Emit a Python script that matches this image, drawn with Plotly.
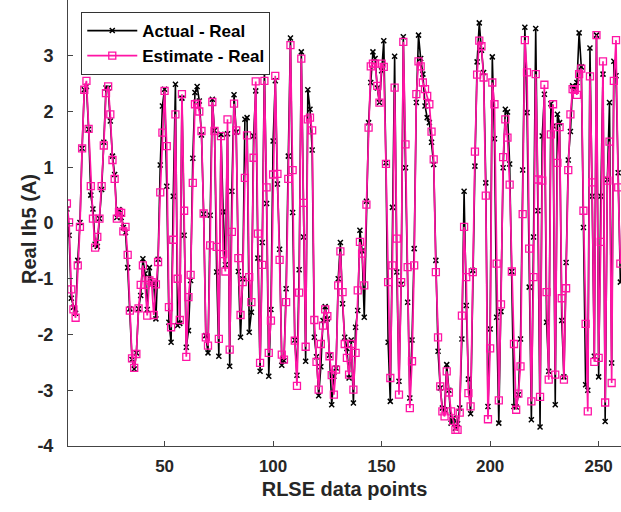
import plotly.graph_objects as go

# RLSE data point index
data_points = list(range(5, 261))

actual_real = [
    0.25, -0.22, -1.35, -1.51, -1.62, -0.67, 0.01, 1.34, 2.39, 2.45,
    1.68, 0.50, 0.25, -0.38, -0.42, 0.08, 0.60, 1.45, 2.42, 2.42,
    1.83, 1.20, 0.87, 0.10, 0.24, 0.10, -0.08, -0.17, -0.80, -1.54,
    -2.45, -2.62, -2.33, -1.54, -1.30, -0.64, -0.91, -1.55, -0.80, -1.10,
    -1.08, -1.72, -0.65, 1.04, 2.10, 2.40, 0.66, -1.78, -2.14, 0.48,
    2.49, -1.84, -1.80, 2.24, -0.22, -2.23, -1.93, -1.03, 1.16, 2.34,
    2.45, 2.19, 1.58, 0.16, -2.02, -2.33, 0.14, 2.22, 1.66, -0.88,
    -2.39, 1.59, 0.20, -0.75, 1.60, -2.57, 0.57, 2.30, 1.63, -0.87,
    -2.05, -1.00, 1.86, 1.89, -1.96, -1.60, 1.56, 2.37, -0.63, -2.66,
    -0.35, 2.80, 0.35, -2.75, -1.55, 1.47, 2.55, 0.70, -0.47, -2.55,
    -2.47, -1.18, 1.20, 3.32, 0.19, -2.10, -2.73, -0.84, 3.07, -0.25,
    -2.48, 2.39, 2.04, 1.31, -2.05, -2.40, -3.10, -2.58, -1.75, -1.50,
    -1.72, -2.37, -3.26, -2.75, -2.60, -1.00, -0.35, -1.45, -2.05, -2.25,
    -2.78, -2.10, -3.23, -1.87, -1.57, -0.13, -0.50, -1.69, 0.39, 1.80,
    2.52, 3.07, 2.95, 2.42, 2.16, 2.73, 3.27, 1.08, -2.14, -3.20,
    0.28, 2.99, -0.88, -2.84, -1.10, 3.34, 0.99, -1.42, -3.14, -2.10,
    -0.46, 2.16, 3.37, 2.95, 2.67, 2.10, 1.89, 1.80, 1.45, 1.05,
    -0.67, -2.30, -2.96, -3.32, -3.35, -2.54, -3.00, -3.59, -3.50, -3.68,
    -3.60, -3.32, -2.08, 0.57, -1.48, -2.80, -3.42, -0.85, 1.02, 2.89,
    3.59, 3.10, 2.70, 0.72, -3.29, -1.90, 2.98, 1.51, -1.69, -3.59,
    -1.59, 0.99, 2.04, 1.99, 1.06, -0.87, -3.29, -3.30, -3.08, -2.08,
    0.95, 3.51, 1.98, -1.15, -3.53, -0.25, 3.49, 0.22, -3.66, 1.56,
    2.31, -1.78, -2.66, 2.14, 1.74, -3.26, 1.95, 1.80, -1.75, -2.76,
    -0.71, 1.13, 1.64, 2.46, 2.40, 2.52, 3.41, 2.80, -0.08, -2.90,
    -3.00, 3.14, 0.48, -2.39, 3.37, -2.76, 0.48, 2.67, -3.56, 0.78,
    2.16, -2.51, 2.90, 2.64, 0.90, -1.06,
]

estimate_real = [
    0.35, 0.01, -1.19, -1.55, -1.70, -0.76, -0.07, 1.34, 2.39, 2.55,
    1.69, 0.66, 0.08, -0.44, -0.25, 0.08, 0.66, 1.39, 2.33, 2.45,
    1.95, 1.13, 0.79, 0.08, 0.20, 0.18, -0.15, -0.07, -0.57, -1.57,
    -2.43, -2.60, -2.35, -1.53, -1.11, -0.76, -1.11, -1.66, -1.03, -1.06,
    -1.65, -1.10, -0.70, 0.55, 1.62, 2.37, 1.38, -1.51, -1.87, -0.30,
    1.95, -1.00, -1.74, 2.31, 0.22, -2.40, -1.33, -0.93, 0.72, 2.13,
    2.14, 2.00, 1.65, 0.17, -2.05, -2.20, -0.40, 2.17, 1.65, -0.43,
    -2.08, 1.56, -0.56, -0.87, 1.86, -2.27, -0.16, 2.14, 1.66, -0.63,
    -1.65, -1.06, 0.81, 1.57, -0.97, -1.42, 1.17, 2.54, -0.19, -2.51,
    -0.75, 2.55, 0.64, -2.33, -1.75, 0.87, 2.64, 0.88, -0.66, -2.36,
    -2.45, -1.42, 0.79, 3.19, 0.95, -2.11, -2.92, -1.25, 2.95, 0.36,
    -2.22, 1.86, 1.89, 1.66, -1.74, -2.49, -2.99, -2.17, -1.84, -1.55,
    -1.67, -2.39, -2.73, -3.08, -2.63, -1.12, -0.51, -1.24, -2.17, -2.42,
    -2.72, -2.17, -2.99, -2.33, -1.21, -0.34, -0.55, -1.12, 0.33, 1.71,
    2.81, 2.86, 2.86, 2.46, 2.16, 2.86, 2.80, 1.06, -1.06, -2.78,
    -0.76, 2.43, -0.28, -3.08, -1.06, 3.25, 1.41, -0.79, -3.32, -2.48,
    -0.76, 2.31, 2.90, 2.81, 2.52, 2.40, 2.28, 2.13, 1.64, 1.14,
    -0.88, -2.05, -2.93, -3.38, -3.47, -2.66, -3.04, -3.38, -3.55, -3.71,
    -3.71, -3.40, -1.66, -0.07, -0.97, -3.05, -3.29, -0.88, 1.28, 2.66,
    3.27, 3.17, 2.61, 0.49, -3.52, -2.25, 2.52, 2.13, -0.73, -3.18,
    -1.46, 1.18, 1.86, 1.53, 0.69, -0.87, -2.17, -3.35, -3.06, -2.57,
    0.16, 3.28, 2.70, -0.46, -3.20, -0.97, 2.67, 0.78, -3.12, 0.76,
    2.48, -1.24, -2.81, 1.59, 2.13, -2.72, 1.08, 1.72, -1.35, -2.81,
    -1.17, 0.95, 1.95, 2.40, 2.39, 2.30, 2.67, 2.77, 0.22, -1.81,
    -3.38, 2.63, 0.73, -2.49, 3.37, -2.42, -0.34, 2.90, -3.22, 0.76,
    1.46, -2.87, 2.55, 3.28, 0.64, -0.73,
]

x_tick_vals = [50, 100, 150, 200, 250]
y_tick_vals = [-4, -3, -2, -1, 0, 1, 2, 3]
y_tick_text = ["-4", "-3", "-2", "-1", "0", "1", "2", "3"]

BLACK = "#000000"
PINK = "#FF14A5"
TXT = "#262626"
FONT = "Liberation Sans, Arial, sans-serif"

fig = go.Figure()
fig.add_trace(go.Scatter(
    x=data_points, y=actual_real, mode="lines+markers", name="Actual - Real",
    line=dict(color=BLACK, width=1.6),
    marker=dict(symbol="x-thin", size=5, color=BLACK, line=dict(color=BLACK, width=1.5)),
))
fig.add_trace(go.Scatter(
    x=data_points, y=estimate_real, mode="lines+markers", name="Estimate - Real",
    line=dict(color=PINK, width=1.7),
    marker=dict(symbol="square-open", size=7, color=PINK, line=dict(color=PINK, width=1.3)),
))

fig.update_layout(
    width=621, height=512,
    margin=dict(l=68, r=0, t=0, b=66),
    plot_bgcolor="white", paper_bgcolor="white",
    font=dict(family=FONT, color=TXT),
    showlegend=True,
    legend=dict(
        x=0.024, y=0.973, xanchor="left", yanchor="top",
        bgcolor="white", bordercolor="#333333", borderwidth=1,
        font=dict(family=FONT, size=17, color="#000000", weight="bold"),
        itemwidth=50, tracegroupgap=0,
    ),
    xaxis=dict(
        range=[5.5, 260.3], tickvals=x_tick_vals, ticks="inside", ticklen=5,
        tickcolor="#444", showline=True, linecolor="#444", linewidth=1,
        showgrid=False, zeroline=False,
        tickfont=dict(family=FONT, size=17, color=TXT, weight="bold"),
        title=dict(text="RLSE data points", standoff=6,
                   font=dict(family=FONT, size=20, color=TXT, weight="bold")),
        ticklabelstandoff=5,
    ),
    yaxis=dict(
        range=[-4, 4.0], tickvals=y_tick_vals, ticktext=y_tick_text,
        ticks="inside", ticklen=5,
        tickcolor="#444", showline=True, linecolor="#444", linewidth=1,
        showgrid=False, zeroline=False,
        tickfont=dict(family=FONT, size=18, color=TXT, weight="bold"),
        ticklabelstandoff=10,
    ),
    annotations=[dict(
        text="Real Ih5 (A)", textangle=-90, xref="paper", yref="paper",
        x=(29 - 68) / 553, y=(446 - 229) / 446, xanchor="center", yanchor="middle",
        showarrow=False, font=dict(family=FONT, size=20, color=TXT, weight="bold"),
    )],
)

fig.write_html("out.html")
